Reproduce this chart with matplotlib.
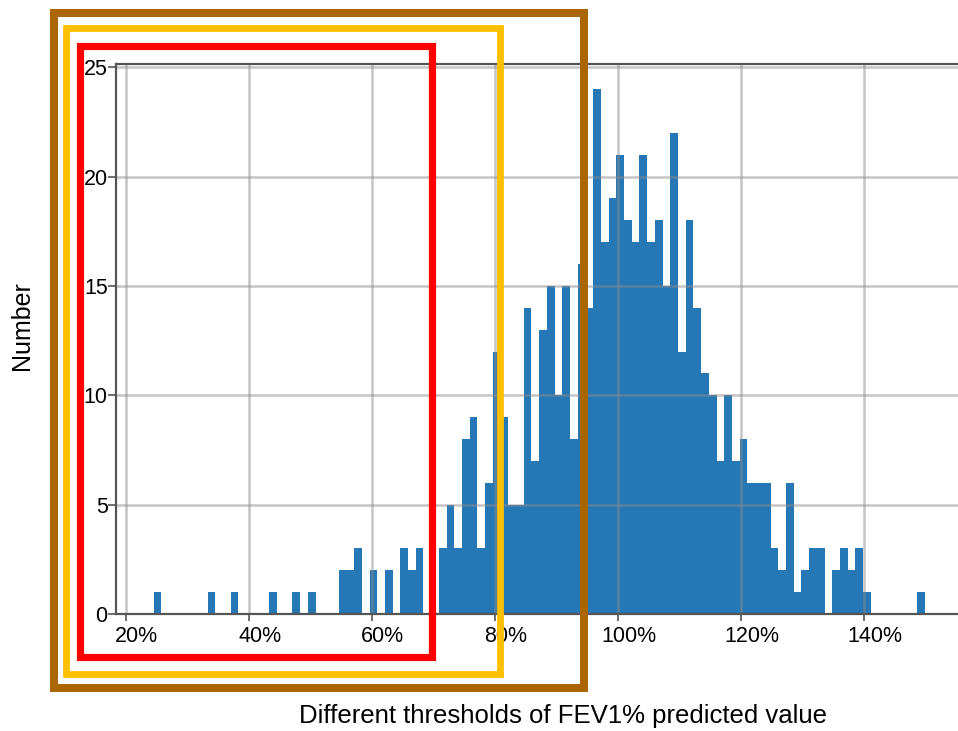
import numpy as np
import matplotlib
matplotlib.use("Agg")
import matplotlib.pyplot as plt
from matplotlib.patches import Rectangle
from matplotlib.transforms import ScaledTranslation

# ---- data ----
bin_start = 24.5      # % predicted, left edge of first bin
bin_end = 149.9       # % predicted, right edge of last bin
counts = [1, 0, 0, 0, 0, 0, 0, 1, 0, 0,
          1, 0, 0, 0, 0, 1, 0, 0, 1, 0,
          1, 0, 0, 0, 2, 2, 3, 0, 2, 0,
          2, 0, 3, 2, 3, 0, 0, 3, 5, 3,
          8, 9, 3, 6, 12, 9, 5, 5, 14, 7,
          13, 15, 10, 15, 8, 16, 14, 24, 17, 19,
          21, 18, 17, 21, 17, 18, 15, 22, 12, 18,
          14, 11, 10, 7, 10, 7, 8, 6, 6, 6,
          3, 2, 6, 1, 2, 3, 3, 0, 2, 3,
          2, 3, 1, 0, 0, 0, 0, 0, 0, 1]
x_ticks = [20, 40, 60, 80, 100, 120, 140]
x_ticklabels = ["20%", "40%", "60%", "80%", "100%", "120%", "140%"]
y_ticks = [0, 5, 10, 15, 20, 25]
x_label = "Different thresholds of FEV1% predicted value"
y_label = "Number"

W, H = 958, 731
plt.rcParams['font.family'] = ['Liberation Sans', 'DejaVu Sans']
fig = plt.figure(figsize=(W / 100, H / 100), dpi=100)

def fx(px):
    return px / W

def fy(py):
    return 1 - py / H

# axes: left spine at x=116px, bottom at y=614px, top at y=64px; extends past right edge
ax = fig.add_axes([fx(116), fy(614), fx(987) - fx(116), fy(64) - fy(614)])

edges = np.linspace(bin_start, bin_end, len(counts) + 1)
ax.hist(edges[:-1], bins=edges, weights=counts, color='#2677b5',
        linewidth=0, zorder=2)

ax.set_xlim(18.4, 160)
ax.set_ylim(0, 25.15)
ax.set_xticks(x_ticks)
ax.set_xticklabels(x_ticklabels)
ax.set_yticks(y_ticks)

ax.grid(True, color='#8c8c8c', alpha=0.5, linewidth=1.8, zorder=3)
ax.set_axisbelow(False)
for line in ax.get_xgridlines() + ax.get_ygridlines():
    line.set_zorder(3)

for side in ['left', 'bottom', 'top']:
    ax.spines[side].set_color('#555555')
    ax.spines[side].set_linewidth(1.6)
    ax.spines[side].set_zorder(4)
ax.spines['right'].set_visible(False)

ax.tick_params(axis='x', labelsize=15.5, length=5, width=1.2, color='#555555', pad=4)
ax.tick_params(axis='y', labelsize=15.5, length=5.5, width=1.2, color='#555555', pad=0.5)

off = ScaledTranslation(11 / 100, 0, fig.dpi_scale_trans)
for lab in ax.get_xticklabels():
    lab.set_transform(lab.get_transform() + off)

ax.set_xlabel(x_label, fontsize=18.5)
ax.xaxis.set_label_coords(fx(563), fy(716), transform=fig.transFigure)
ax.xaxis.label.set_va('center')
ax.set_ylabel(y_label, fontsize=18)
ax.yaxis.set_label_coords(fx(22), fy(326), transform=fig.transFigure)
ax.yaxis.label.set_va('center')

# highlight boxes (pixel coordinates of stroke centre lines)
boxes = [
    ((54, 12.5), (583.5, 687.5), '#aa6600', 8),
    ((66, 27.5), (499.5, 673.5), '#ffc000', 6.8),
    ((80, 46), (432, 657), '#ff0000', 7.2),
]
for (x0, y0), (x1, y1), col, lwpx in boxes:
    r = Rectangle((fx(x0), fy(y1)), fx(x1) - fx(x0), fy(y0) - fy(y1),
                  transform=fig.transFigure, fill=False, edgecolor=col,
                  linewidth=lwpx * 72 / 100, joinstyle='miter', zorder=10)
    fig.add_artist(r)

fig.savefig("out.png", dpi=100)
